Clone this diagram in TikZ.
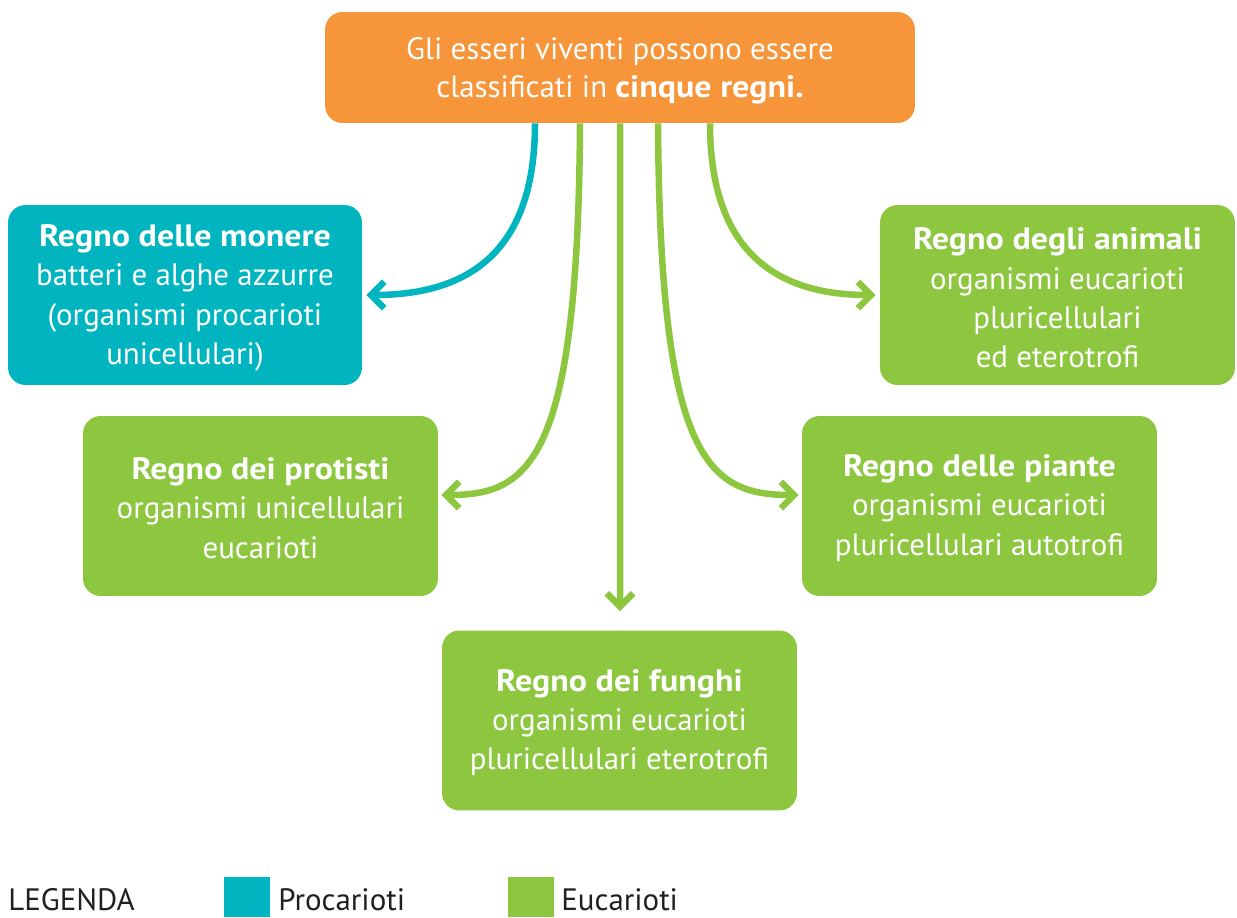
\documentclass[tikz,border=0pt]{standalone}
\usepackage{fontspec}
\setmainfont{PT Sans}[BoldFeatures={FakeStretch=1.1}]
\usetikzlibrary{arrows.meta,calc}
\definecolor{cOrange}{HTML}{F7953A}
\definecolor{cTeal}{HTML}{00B5BF}
\definecolor{cGreen}{HTML}{8DC63F}
\definecolor{cText}{HTML}{231F20}
\begin{document}
\begin{tikzpicture}[x=0.02cm,y=-0.02cm,
  box/.style={rounded corners=0.35cm, inner sep=0pt,
    minimum width=7.1cm, minimum height=3.6cm},
  boxtext/.style={text=white, align=center, inner sep=0pt, font=\fontsize{17.6}{22.4}\selectfont},
  conn/.style={line width=3.7pt, -{Straight Barb[length=7.5pt,width=15pt]}},
  legtext/.style={anchor=base west, text=cText, inner sep=0pt, font=\fontsize{17.6}{20}\selectfont},
  legsq/.style={minimum width=0.92cm, minimum height=0.8cm, inner sep=0pt}]
\useasboundingbox (0,0) rectangle (1237,917);
\node[box, fill=cOrange, minimum width=11.8cm, minimum height=2.22cm] (top) at (620,67.5) {};
\node[boxtext, font=\fontsize{17.6}{21.6}\selectfont] (topT) at ($(top.center)+(0,3)$)
  {Gli esseri viventi possono essere\\classificati in \textbf{cinque regni.}};
\node[box, fill=cTeal, minimum width=7.08cm] (monere) at (185,295) {};
\node[boxtext] (monereT) at ($(monere.center)+(0,3)$)
  {\textbf{Regno delle monere}\\batteri e alghe azzurre\\(organismi procarioti\\unicellulari)};
\node[box, fill=cGreen] (animali) at (1057.5,295) {};
\node[boxtext] (animaliT) at ($(animali.center)+(0,3)$)
  {\textbf{Regno degli animali}\\organismi eucarioti\\pluricellulari\\ed eterotrofi};
\node[box, fill=cGreen] (protisti) at (260.5,506) {};
\node[boxtext] (protistiT) at ($(protisti.center)+(0,2)$)
  {\textbf{Regno dei protisti}\\organismi unicellulari\\eucarioti};
\node[box, fill=cGreen] (piante) at (979.5,506) {};
\node[boxtext] (pianteT) at ($(piante.center)+(0,2)$)
  {\textbf{Regno delle piante}\\organismi eucarioti\\pluricellulari autotrofi};
\node[box, fill=cGreen] (funghi) at (619.5,720.5) {};
\node[boxtext] (funghiT) at ($(funghi.center)+(0,2)$)
  {\textbf{Regno dei funghi}\\organismi eucarioti\\pluricellulari eterotrofi};
% connectors
\draw[conn, cTeal] ($(top.south)+(-85,0)$) .. controls ($(top.south)+(-85,127)$) and ($(monere.east)+(108,0)$) .. ($(monere.east)+(4,0)$);
\draw[conn, cGreen] ($(top.south)+(-40,0)$) .. controls ($(top.south)+(-42,337)$) and ($(protisti.east)+(92,-11)$) .. ($(protisti.east)+(3,-11)$);
\draw[conn, cGreen] (top.south) -- ($(funghi.north)+(0.5,-19)$);
\draw[conn, cGreen] ($(top.south)+(38,0)$) .. controls ($(top.south)+(40,337)$) and ($(piante.west)+(-94,-11)$) .. ($(piante.west)+(-3,-11)$);
\draw[conn, cGreen] ($(top.south)+(90,0)$) .. controls ($(top.south)+(90,127)$) and ($(animali.west)+(-105,0)$) .. ($(animali.west)+(-4,0)$);
% legend
\node[legtext] (leg) at (8,910) {LEGENDA};
\node[legsq, fill=cTeal] (sqp) at (247,897) {};
\node[legtext] (lp) at (278,910) {Procarioti};
\node[legsq, fill=cGreen] (sqe) at (531,897) {};
\node[legtext] (le) at (561,910) {Eucarioti};
\end{tikzpicture}
\end{document}
